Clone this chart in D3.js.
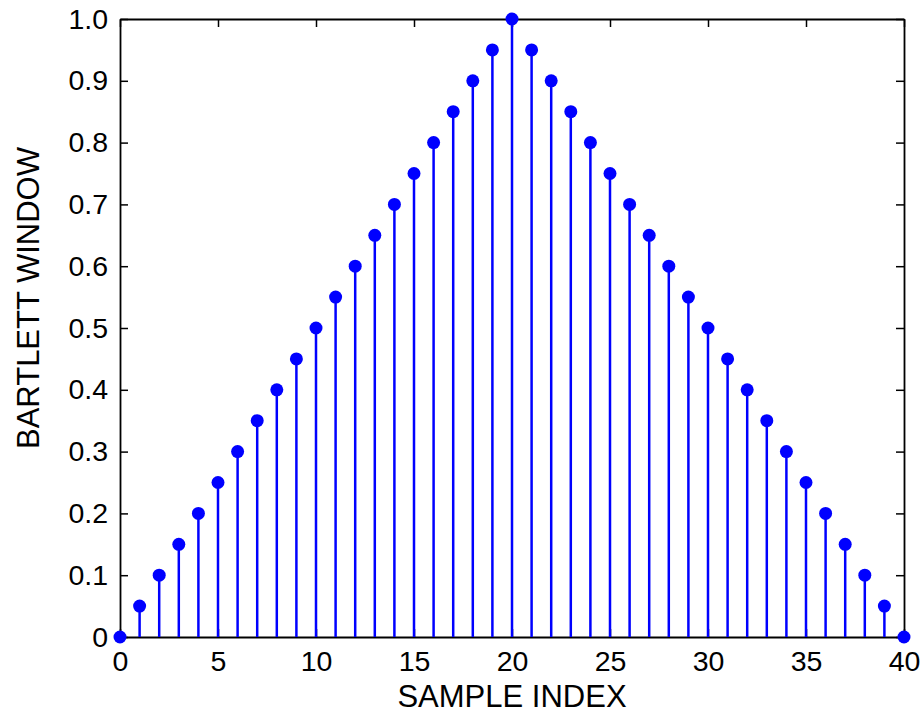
<!DOCTYPE html>
<html>
<head>
<meta charset="utf-8">
<script src="https://cdn.jsdelivr.net/npm/d3@7"></script>
<style>
  body { margin: 0; background: #fff; }
  text { font-family: "Liberation Sans", Arial, Helvetica, sans-serif; }
</style>
</head>
<body>
<div id="container"></div>
<script>
/* CONSTANTS AND GLOBALS */
const width = 922,
  height = 715,
  margin = { top: 19, bottom: 78, left: 120, right: 18 };

// sample index and window values
const sampleIndex = [0, 1, 2, 3, 4, 5, 6, 7, 8, 9, 10, 11, 12, 13, 14, 15, 16, 17, 18, 19, 20,
  21, 22, 23, 24, 25, 26, 27, 28, 29, 30, 31, 32, 33, 34, 35, 36, 37, 38, 39, 40];
const windowValues = [0, 0.05, 0.1, 0.15, 0.2, 0.25, 0.3, 0.35, 0.4, 0.45, 0.5, 0.55, 0.6, 0.65, 0.7, 0.75, 0.8, 0.85, 0.9, 0.95, 1.0,
  0.95, 0.9, 0.85, 0.8, 0.75, 0.7, 0.65, 0.6, 0.55, 0.5, 0.45, 0.4, 0.35, 0.3, 0.25, 0.2, 0.15, 0.1, 0.05, 0];
const xTicks = [0, 5, 10, 15, 20, 25, 30, 35, 40];
const yTicks = [0, 0.1, 0.2, 0.3, 0.4, 0.5, 0.6, 0.7, 0.8, 0.9, 1.0];

const data = sampleIndex.map((x, i) => ({ x, y: windowValues[i] }));

const svg = d3.select("#container")
  .append("svg")
  .attr("width", width)
  .attr("height", height);

const xScale = d3.scaleLinear()
  .domain([0, 40])
  .range([margin.left, width - margin.right]);

const yScale = d3.scaleLinear()
  .domain([0, 1])
  .range([height - margin.bottom, margin.top]);

const tickLen = 8;
const tickFont = 28.5;
const labelFont = 31;

// axes: ticks pointing inward, on all four sides (matlab box)
const xBottom = d3.axisBottom(xScale).tickValues(xTicks).tickSizeInner(-tickLen).tickSizeOuter(0).tickPadding(tickLen + 6).tickFormat(d3.format("d"));
const xTop = d3.axisTop(xScale).tickValues(xTicks).tickSizeInner(-tickLen).tickSizeOuter(0).tickFormat("");
const yLeft = d3.axisLeft(yScale).tickValues(yTicks).tickSizeInner(-tickLen).tickSizeOuter(0).tickPadding(tickLen + 4)
  .tickFormat(d => d === 0 ? "0" : d3.format(".1f")(d));
const yRight = d3.axisRight(yScale).tickValues(yTicks).tickSizeInner(-tickLen).tickSizeOuter(0).tickFormat("");

function styleAxis(g) {
  g.selectAll("path.domain").attr("stroke", "#000").attr("stroke-width", 1.8);
  g.selectAll(".tick line").attr("stroke", "#000").attr("stroke-width", 1.5);
  g.selectAll(".tick text").attr("fill", "#000").style("font-size", tickFont + "px");
}

svg.append("g")
  .attr("transform", `translate(0, ${height - margin.bottom})`)
  .call(xBottom).call(styleAxis);
svg.append("g")
  .attr("transform", `translate(0, ${margin.top})`)
  .call(xTop).call(styleAxis);
svg.append("g")
  .attr("transform", `translate(${margin.left}, 0)`)
  .call(yLeft).call(styleAxis);
svg.append("g")
  .attr("transform", `translate(${width - margin.right}, 0)`)
  .call(yRight).call(styleAxis);

// stems
svg.selectAll("line.stem")
  .data(data)
  .join("line")
  .attr("class", "stem")
  .attr("x1", d => xScale(d.x))
  .attr("x2", d => xScale(d.x))
  .attr("y1", yScale(0))
  .attr("y2", d => yScale(d.y))
  .attr("stroke", "#0000ff")
  .attr("stroke-width", 2.5);

// markers
svg.selectAll("circle.marker")
  .data(data)
  .join("circle")
  .attr("class", "marker")
  .attr("cx", d => xScale(d.x))
  .attr("cy", d => yScale(d.y))
  .attr("r", 6.5)
  .attr("fill", "#0000ff");

// axis labels
svg.append("text")
  .attr("x", 512)
  .attr("y", 707)
  .attr("text-anchor", "middle")
  .style("font-size", labelFont + "px")
  .text("SAMPLE INDEX");

svg.append("text")
  .attr("transform", `translate(39, 298) rotate(-90)`)
  .attr("text-anchor", "middle")
  .style("font-size", labelFont + "px")
  .text("BARTLETT WINDOW");
</script>
</body>
</html>
